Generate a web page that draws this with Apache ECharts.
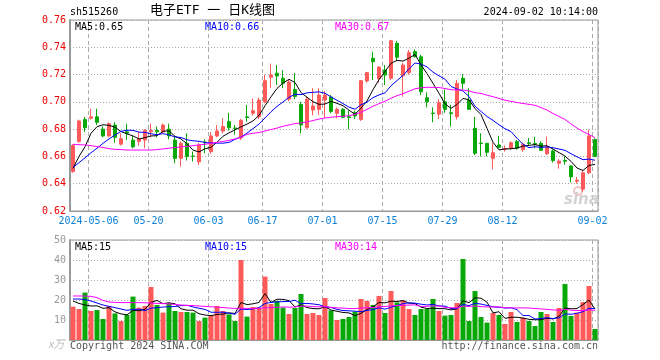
<!DOCTYPE html>
<html><head><meta charset="utf-8">
<script src="https://cdn.jsdelivr.net/npm/echarts/dist/echarts.min.js"></script>
<style>html,body{margin:0;padding:0;background:#fff}#c{width:660px;height:360px}</style>
</head><body><div id="c"></div>
<script>
const dates = [
'2024-04-26','2024-04-29','2024-04-30','2024-05-06','2024-05-07','2024-05-08','2024-05-09','2024-05-10','2024-05-13','2024-05-14',
'2024-05-15','2024-05-16','2024-05-17','2024-05-20','2024-05-21','2024-05-22','2024-05-23','2024-05-24','2024-05-27','2024-05-28',
'2024-05-29','2024-05-30','2024-05-31','2024-06-03','2024-06-04','2024-06-05','2024-06-06','2024-06-07','2024-06-11','2024-06-12',
'2024-06-13','2024-06-14','2024-06-17','2024-06-18','2024-06-19','2024-06-20','2024-06-21','2024-06-24','2024-06-25','2024-06-26',
'2024-06-27','2024-06-28','2024-07-01','2024-07-02','2024-07-03','2024-07-04','2024-07-05','2024-07-08','2024-07-09','2024-07-10',
'2024-07-11','2024-07-12','2024-07-15','2024-07-16','2024-07-17','2024-07-18','2024-07-19','2024-07-22','2024-07-23','2024-07-24',
'2024-07-25','2024-07-26','2024-07-29','2024-07-30','2024-07-31','2024-08-01','2024-08-02','2024-08-05','2024-08-06','2024-08-07',
'2024-08-08','2024-08-09','2024-08-12','2024-08-13','2024-08-14','2024-08-15','2024-08-16','2024-08-19','2024-08-20','2024-08-21',
'2024-08-22','2024-08-23','2024-08-26','2024-08-27','2024-08-28','2024-08-29','2024-08-30','2024-09-02'];

const opens = [0.649,0.671,0.687,0.688,0.689,0.680,0.675,0.683,0.669,0.678,
0.672,0.671,0.672,0.678,0.679,0.678,0.680,0.672,0.6586,0.6696,
0.6603,0.656,0.6705,0.6635,0.675,0.6786,0.6855,0.6808,0.6735,0.689,
0.6916,0.6891,0.700,0.718,0.721,0.7173,0.702,0.709,0.698,0.681,
0.694,0.6945,0.7013,0.7035,0.6916,0.6945,0.689,0.692,0.6872,0.7153,
0.7319,0.717,0.7233,0.7173,0.7429,0.719,0.7214,0.7368,0.733,0.703,
0.6918,0.691,0.700,0.692,0.6891,0.7173,0.7013,0.6806,0.6698,0.6696,
0.6586,0.6684,0.6652,0.666,0.671,0.665,0.670,0.6695,0.6695,0.662,
0.664,0.655,0.657,0.653,0.6418,0.636,0.648,0.6725];

const highs = [0.669,0.687,0.689,0.695,0.695,0.682,0.685,0.685,0.677,0.684,
0.675,0.678,0.680,0.684,0.682,0.684,0.684,0.675,0.671,0.677,
0.6636,0.670,0.6725,0.678,0.683,0.688,0.692,0.683,0.6875,0.6977,
0.7026,0.703,0.720,0.728,0.727,0.7233,0.716,0.721,0.700,0.704,
0.710,0.710,0.708,0.705,0.696,0.6955,0.6935,0.6935,0.716,0.722,
0.7368,0.726,0.727,0.7455,0.7448,0.7285,0.738,0.7385,0.7345,0.707,
0.696,0.702,0.709,0.6977,0.716,0.7204,0.710,0.689,0.677,0.6698,
0.670,0.675,0.668,0.671,0.672,0.670,0.6735,0.6745,0.671,0.6745,
0.665,0.658,0.660,0.6535,0.645,0.650,0.6795,0.673];

const lows = [0.648,0.670,0.678,0.687,0.683,0.674,0.674,0.670,0.668,0.672,
0.666,0.668,0.666,0.674,0.674,0.677,0.6725,0.655,0.6525,0.657,
0.6563,0.6537,0.6623,0.662,0.674,0.677,0.679,0.676,0.672,0.6855,
0.690,0.6875,0.699,0.710,0.7124,0.710,0.7005,0.7019,0.677,0.680,
0.690,0.6905,0.688,0.6916,0.688,0.688,0.680,0.6875,0.686,0.714,
0.716,0.714,0.7124,0.716,0.730,0.7038,0.720,0.7325,0.705,0.696,
0.685,0.6875,0.692,0.682,0.687,0.709,0.694,0.661,0.660,0.660,
0.6506,0.666,0.6635,0.665,0.665,0.6635,0.668,0.666,0.664,0.661,
0.6555,0.651,0.654,0.641,0.640,0.634,0.647,0.6595];

const closes = [0.668,0.686,0.681,0.689,0.685,0.675,0.684,0.674,0.673,0.677,
0.667,0.673,0.679,0.679,0.678,0.683,0.675,0.6586,0.6696,0.660,
0.660,0.6684,0.670,0.675,0.6786,0.682,0.681,0.6805,0.6865,0.6885,
0.6935,0.7013,0.7155,0.7197,0.719,0.7136,0.7145,0.704,0.683,0.702,
0.697,0.705,0.705,0.693,0.6945,0.6887,0.6885,0.6896,0.7155,0.7214,
0.7294,0.7255,0.7197,0.7448,0.7327,0.727,0.736,0.7331,0.7074,0.700,
0.6914,0.6994,0.6945,0.6914,0.7136,0.7136,0.6945,0.6623,0.6694,0.663,
0.6627,0.6667,0.6658,0.670,0.666,0.669,0.6695,0.669,0.6645,0.667,
0.657,0.6566,0.6565,0.645,0.6425,0.648,0.675,0.660];

// volume in 万 (10k)
const volumes = [16.7,15.5,23.7,14.5,15,10.5,17,13.3,9.5,12.5,
21.7,16.2,17,26.5,17.5,13.7,18.3,14.5,14,14,
13.7,9.5,11.2,12.5,17,14.5,12.8,9.5,40,11.7,
16.5,16.2,31.7,18,19.5,16.2,13,16,23,13,
13.5,12.5,21,14.8,10,10.5,11.5,14.2,20.5,19.5,
17.5,22,13.5,24.5,18.8,19.8,15.5,12.5,15.5,15.5,
20.5,14.5,12.2,12.5,18.5,40.5,9.5,24.5,11.5,8.7,
13.5,12.5,8,14,9,11.2,9.5,7,14,13,
9,16,28,12,13.7,19,27,5.5];

const priceMa5Head = [0.6513,0.660,0.6671,0.677];
const priceMa10Head = [0.652,0.6554,0.659,0.6627,0.666,0.6696,0.6728,0.6757,0.6784];
const priceMa30Head = [0.6689,0.6686,0.6684,0.6679,0.6672,0.6665,0.6657,0.6652,0.665,0.6647,0.6647,0.6647,0.6647,0.6647,0.665,0.6655,0.666,0.6665,0.667,0.6674,0.6679,0.6684,0.6689,0.6696,0.6703,0.671,0.6718,0.6728,0.674];
const volMa5Head = [19.5,18.3,17.5,17];
const volMa10Head = [20.5,20.5,20.2,19.5,18.5,17.5,16.8,16.2,15.5];
const volMa30Head = [22,22,22,21.8,21.2,19.8,19,18.8,18.7,18.7,18.7,18.7,18.6,18.5,18.3,18.2,18,17.8,17.5,17.3,17.2,17,16.8,16.6,16.4,16.2,16,15.8,15.9];

const tickDates = ['2024-05-06','2024-05-20','2024-06-03','2024-06-17','2024-07-01','2024-07-15','2024-07-29','2024-08-12','2024-09-02'];
const priceTicks = {min:0.62, max:0.76, step:0.02};
const volTicks = {min:0, max:50, step:10};

const titleCode = 'sh515260';
const titleName = '电子ETF 一 日K线图';
const stamp = '2024-09-02 10:14:00';
const priceLegend = ['MA5:0.65','MA10:0.66','MA30:0.67'];
const volLegend = ['MA5:15','MA10:15','MA30:14'];

function ma(values, head, n) {
  return values.map((v, i) => {
    if (i < n - 1) return head[i];
    let s = 0;
    for (let k = i - n + 1; k <= i; k++) s += values[k];
    return +(s / n).toFixed(4);
  });
}

const RED = '#ff5a5a', GREEN = '#08a808';
const MONO = '"DejaVu Sans Mono", "Liberation Mono", monospace';
const kData = dates.map((d, i) => [opens[i], closes[i], lows[i], highs[i]]);
const volData = volumes.map((v, i) => ({value: v, itemStyle: {color: closes[i] >= opens[i] ? RED : GREEN}}));
const isTick = (idx, val) => tickDates.indexOf(val) >= 0;

const chart = echarts.init(document.getElementById('c'), null, {renderer: 'canvas'});
const vSplit = {show: true, interval: isTick, lineStyle: {color: '#aaa', type: [4, 3], width: 1}};
const hSplit = {show: true, lineStyle: {color: '#aaa', type: [1, 2], width: 1}};

function lineSeries(name, data, color, xi, yi) {
  return {name, type: 'line', data, xAxisIndex: xi, yAxisIndex: yi, symbol: 'none', showSymbol: false,
    lineStyle: {color, width: 1}, itemStyle: {color}, z: 5, silent: true};
}

function txt(text, pos, color, size, extra) {
  return Object.assign({type: 'text', silent: true, z: 100,
    style: {text, fill: color, font: (size || 10) + 'px ' + MONO}}, pos, extra || {});
}

chart.setOption({
  animation: false,
  backgroundColor: '#fff',
  grid: [
    {left: 70, top: 20, width: 528, height: 191, show: true, borderColor: '#999', borderWidth: 1},
    {left: 70, top: 240, width: 528, height: 100, show: true, borderColor: '#999', borderWidth: 1}
  ],
  xAxis: [
    {type: 'category', gridIndex: 0, data: dates, boundaryGap: true,
     axisLine: {show: true, lineStyle: {color: '#999', width: 1}}, axisTick: {show: false},
     axisLabel: {show: true, interval: isTick, color: '#0a7fd6', fontFamily: MONO, fontSize: 10, margin: 5,
       padding: [0, 5, 0, 0],
       formatter: (v) => v === tickDates[0] ? v : v.slice(5)},
     splitLine: vSplit},
    {type: 'category', gridIndex: 1, data: dates, boundaryGap: true,
     axisLine: {show: true, lineStyle: {color: '#999', width: 1}}, axisTick: {show: false},
     axisLabel: {show: false}, splitLine: vSplit}
  ],
  yAxis: [
    {type: 'value', gridIndex: 0, min: priceTicks.min, max: priceTicks.max, interval: priceTicks.step,
     axisLine: {show: true, lineStyle: {color: '#999', width: 2}}, axisTick: {show: false},
     axisLabel: {color: '#ee0000', fontFamily: MONO, fontSize: 10, margin: 4, formatter: (v) => v.toFixed(2)},
     splitLine: hSplit},
    {type: 'value', gridIndex: 1, min: volTicks.min, max: volTicks.max, interval: volTicks.step,
     axisLine: {show: true, lineStyle: {color: '#999', width: 2}}, axisTick: {show: false},
     axisLabel: {color: '#999', fontFamily: MONO, fontSize: 10, margin: 4, formatter: (v) => v === 0 ? '' : String(v)},
     splitLine: hSplit}
  ],
  series: [
    {type: 'candlestick', name: 'K', data: kData, xAxisIndex: 0, yAxisIndex: 0, barWidth: 4, z: 3,
     itemStyle: {color: RED, color0: GREEN, borderColor: RED, borderColor0: GREEN, borderWidth: 1}},
    lineSeries('MA5', ma(closes, priceMa5Head, 5), '#000000', 0, 0),
    lineSeries('MA10', ma(closes, priceMa10Head, 10), '#0000ff', 0, 0),
    lineSeries('MA30', ma(closes, priceMa30Head, 30), '#ff00ff', 0, 0),
    {type: 'bar', name: 'VOL', data: volData, xAxisIndex: 1, yAxisIndex: 1, barWidth: 5, z: 3},
    lineSeries('VMA5', ma(volumes, volMa5Head, 5), '#000000', 1, 1),
    lineSeries('VMA10', ma(volumes, volMa10Head, 10), '#0000ff', 1, 1),
    lineSeries('VMA30', ma(volumes, volMa30Head, 30), '#ff00ff', 1, 1)
  ],
  graphic: [
    txt(titleCode, {left: 70, top: 7}, '#000', 10),
    {type: 'text', silent: true, left: 150, top: 4,
     style: {text: titleName, fill: '#000', font: '13px "DejaVu Sans Mono", "Noto Sans CJK SC", sans-serif'}},
    txt(stamp, {right: 62, top: 7}, '#000', 10),
    txt(priceLegend[0], {left: 75, top: 22}, '#000', 10),
    txt(priceLegend[1], {left: 205, top: 22}, '#0000ff', 10),
    txt(priceLegend[2], {left: 335, top: 22}, '#ff00ff', 10),
    txt(volLegend[0], {left: 75, top: 242}, '#000', 10),
    txt(volLegend[1], {left: 205, top: 242}, '#0000ff', 10),
    txt(volLegend[2], {left: 335, top: 242}, '#ff00ff', 10),
    {type: 'text', silent: true, left: 48, top: 338,
     style: {text: 'x万', fill: '#bbb', font: 'italic 11px "Noto Sans CJK SC", sans-serif'}},
    txt('Copyright 2024 SINA.COM', {left: 70, top: 341}, '#555', 10),
    txt('http://finance.sina.com.cn', {right: 62, top: 341}, '#555', 10),
    {type: 'circle', silent: true, z: 1, shape: {cx: 578, cy: 191, r: 4},
     style: {fill: 'none', stroke: '#f3c4c4', lineWidth: 2}},
    {type: 'text', silent: true, z: 1, left: 564, top: 193,
     style: {text: 'sina', fill: '#d2d2d2', font: 'italic bold 15px "DejaVu Sans", sans-serif'}}
  ]
});
</script>
</body></html>
